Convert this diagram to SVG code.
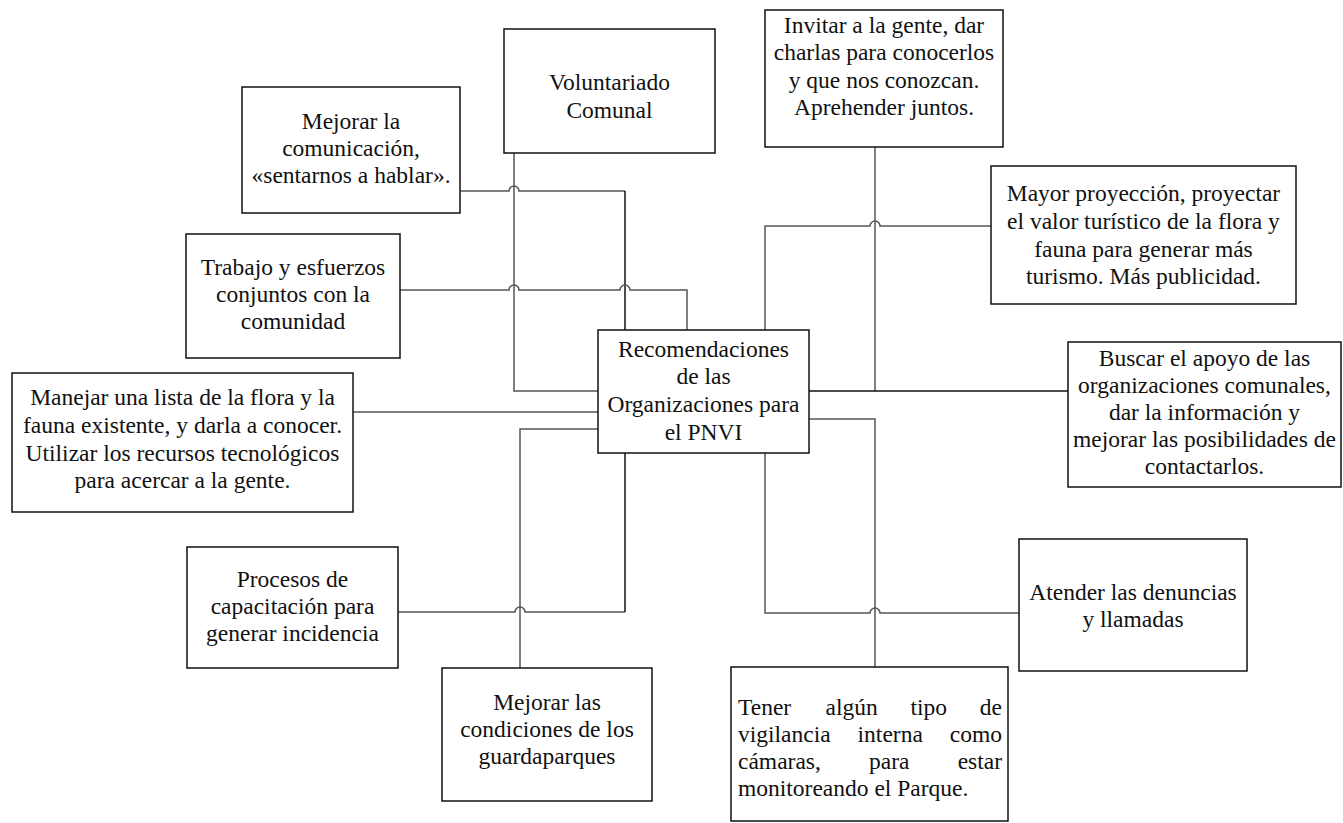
<svg xmlns="http://www.w3.org/2000/svg" width="1343" height="823" viewBox="0 0 1343 823">
<style>
.box{fill:#fff;stroke:#111;stroke-width:1.5}
.t{font-family:"Liberation Serif","Times New Roman",serif;font-size:23.5px;fill:#111;text-anchor:middle}
.ts{font-family:"Liberation Serif","Times New Roman",serif;font-size:23.5px;fill:#111}
.c{fill:none;stroke:#555;stroke-width:1.5}
.k{fill:none;stroke:#111;stroke-width:1.5}
</style>
<rect width="1343" height="823" fill="#fff"/>
<g id="connectors">
<path class="c" d="M514,153 V391 H598"/>
<path class="c" d="M460,191 H509 A5,5 0 0 1 519,191 H625"/>
<path class="k" d="M625,191 V330"/>
<path class="c" d="M400,290 H509 A5,5 0 0 1 519,290 H620 A5,5 0 0 1 630,290 H687 V330"/>
<path class="c" d="M353,412 H598"/>
<path class="c" d="M398,612 H515 A5,5 0 0 1 525,612 H625"/>
<path class="k" d="M625,612 V453"/>
<path class="c" d="M520,668 V429 H598"/>
<path class="c" d="M875,147 V391"/>
<path class="k" d="M809,391 H1068"/>
<path class="c" d="M765,330 V226 H870 A5,5 0 0 1 880,226 H991"/>
<path class="c" d="M809,419 H875 V667"/>
<path class="c" d="M765,453 V613 H870 A5,5 0 0 1 880,613 H1019"/>
</g>
<g id="n-voluntariado">
<rect class="box" x="504" y="29" width="211" height="124"/>
<text class="t" x="609.5" y="90">Voluntariado</text>
<text class="t" x="609.5" y="118">Comunal</text>
</g>
<g id="n-comunicacion">
<rect class="box" x="242" y="87" width="218" height="126"/>
<text class="t" x="351" y="129">Mejorar la</text>
<text class="t" x="351" y="156">comunicación,</text>
<text class="t" x="351" y="183">«sentarnos a hablar».</text>
</g>
<g id="n-trabajo">
<rect class="box" x="186" y="234" width="214" height="124"/>
<text class="t" x="293" y="275">Trabajo y esfuerzos</text>
<text class="t" x="293" y="302">conjuntos con la</text>
<text class="t" x="293" y="329">comunidad</text>
</g>
<g id="n-manejar">
<rect class="box" x="12" y="373" width="341" height="139"/>
<text class="t" x="182.5" y="405">Manejar una lista de la flora y la</text>
<text class="t" x="182.5" y="433">fauna existente, y darla a conocer.</text>
<text class="t" x="182.5" y="461">Utilizar los recursos tecnológicos</text>
<text class="t" x="182.5" y="488">para acercar a la gente.</text>
</g>
<g id="n-procesos">
<rect class="box" x="187" y="547" width="211" height="121"/>
<text class="t" x="292.5" y="587">Procesos de</text>
<text class="t" x="292.5" y="614">capacitación para</text>
<text class="t" x="292.5" y="641">generar incidencia</text>
</g>
<g id="n-guardaparques">
<rect class="box" x="442" y="668" width="210" height="133"/>
<text class="t" x="547" y="710">Mejorar las</text>
<text class="t" x="547" y="737">condiciones de los</text>
<text class="t" x="547" y="764">guardaparques</text>
</g>
<g id="n-centro">
<rect class="box" x="598" y="330" width="211" height="123"/>
<text class="t" x="703.5" y="357">Recomendaciones</text>
<text class="t" x="703.5" y="384">de las</text>
<text class="t" x="703.5" y="412">Organizaciones para</text>
<text class="t" x="703.5" y="440">el PNVI</text>
</g>
<g id="n-invitar">
<rect class="box" x="765" y="10" width="238" height="137"/>
<text class="t" x="884" y="33">Invitar a la gente, dar</text>
<text class="t" x="884" y="60">charlas para conocerlos</text>
<text class="t" x="884" y="88">y que nos conozcan.</text>
<text class="t" x="884" y="115">Aprehender juntos.</text>
</g>
<g id="n-mayor">
<rect class="box" x="991" y="166" width="305" height="138"/>
<text class="t" x="1143.5" y="201">Mayor proyección, proyectar</text>
<text class="t" x="1143.5" y="229">el valor turístico de la flora y</text>
<text class="t" x="1143.5" y="257">fauna para generar más</text>
<text class="t" x="1143.5" y="284">turismo. Más publicidad.</text>
</g>
<g id="n-buscar">
<rect class="box" x="1068" y="342" width="273" height="145"/>
<text class="t" x="1204.5" y="366">Buscar el apoyo de las</text>
<text class="t" x="1204.5" y="393">organizaciones comunales,</text>
<text class="t" x="1204.5" y="420">dar la información y</text>
<text class="t" x="1204.5" y="447">mejorar las posibilidades de</text>
<text class="t" x="1204.5" y="474">contactarlos.</text>
</g>
<g id="n-atender">
<rect class="box" x="1019" y="539" width="228" height="132"/>
<text class="t" x="1133" y="600">Atender las denuncias</text>
<text class="t" x="1133" y="627">y llamadas</text>
</g>
<g id="n-vigilancia">
<rect class="box" x="731" y="667" width="277" height="154"/>
<text class="ts" x="738" y="715">Tener</text>
<text class="ts" x="825.5" y="715">algún</text>
<text class="ts" x="910.4" y="715">tipo</text>
<text class="ts" x="1002" y="715" text-anchor="end">de</text>
<text class="ts" x="738" y="742">vigilancia</text>
<text class="ts" x="857.6" y="742">interna</text>
<text class="ts" x="1002" y="742" text-anchor="end">como</text>
<text class="ts" x="738" y="769">cámaras,</text>
<text class="ts" x="869" y="769">para</text>
<text class="ts" x="1002" y="769" text-anchor="end">estar</text>
<text class="ts" x="738" y="796">monitoreando el Parque.</text>
</g>
</svg>
